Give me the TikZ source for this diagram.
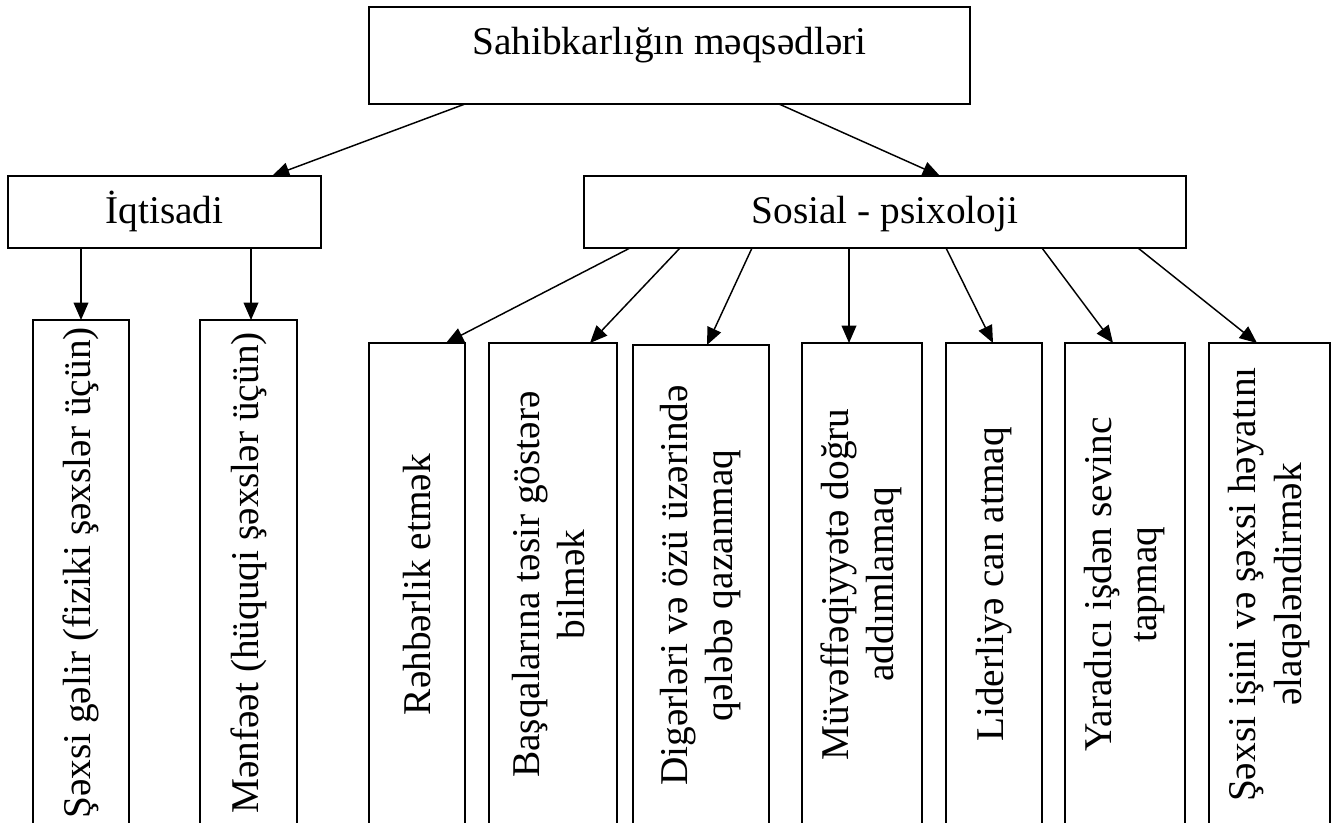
\documentclass[tikz,border=0pt]{standalone}
\usepackage{fontspec}
\setmainfont{Liberation Serif}
\usetikzlibrary{arrows.meta}
\newlength\pxu
\setlength\pxu{0.75pt}
\begin{document}
\begin{tikzpicture}[x=0.75pt,y=-0.75pt,
  box/.style={draw,line width=1.5pt,anchor=north west,inner sep=0pt,outer sep=0pt,align=center,
    font=\fontsize{29.5pt}{34pt}\selectfont},
  txt/.style={font=\fontsize{29.5pt}{34pt}\selectfont,inner sep=0pt},
  arr/.style={line width=1.1pt,-{Triangle[length=13pt,width=11pt]}},
  ]
\useasboundingbox (0,0) rectangle (1341,822);
\fill[white] (0,0) rectangle (1341,822);
\clip (0,0) rectangle (1341,822);
% top level
\node[box,minimum width=601\pxu,minimum height=97\pxu] (top) at (369,7) {};
\node[txt,anchor=base] (toptxt) at ([yshift=-47\pxu]top.north) {Sahibkarlığın məqsədləri};
% second level
\node[box,minimum width=313\pxu,minimum height=72\pxu,text height=22pt,text depth=5.5pt] (iq) at (8,176) {İqtisadi};
\node[box,minimum width=602\pxu,minimum height=72\pxu,text height=22pt,text depth=5.5pt] (sos) at (584,176) {Sosial - psixoloji};
% third level
\node[box,minimum width=96\pxu,minimum height=506\pxu] (b1) at (33,320) {\rotatebox{90}{Şəxsi gəlir (fiziki şəxslər üçün)}};
\node[box,minimum width=97\pxu,minimum height=506\pxu] (b2) at (200,320) {\rotatebox{90}{Mənfəət (hüquqi şəxslər üçün)}};
\node[box,minimum width=96\pxu,minimum height=483\pxu] (b3) at (369,343) {\rotatebox{90}{Rəhbərlik etmək}};
\node[box,minimum width=128\pxu,minimum height=483\pxu] (b4) at (489,343) {\rotatebox{90}{\begin{tabular}{@{}c@{}}Başqalarına təsir göstərə\\bilmək\end{tabular}}};
\node[box,minimum width=136\pxu,minimum height=481\pxu] (b5) at (633,345) {\rotatebox{90}{\begin{tabular}{@{}c@{}}Digərləri və özü üzərində\\qələbə qazanmaq\end{tabular}}};
\node[box,minimum width=120\pxu,minimum height=483\pxu] (b6) at (802,343) {\rotatebox{90}{\begin{tabular}{@{}c@{}}Müvəffəqiyyətə doğru\\addımlamaq\end{tabular}}};
\node[box,minimum width=96\pxu,minimum height=483\pxu] (b7) at (946,343) {\rotatebox{90}{Liderliyə can atmaq}};
\node[box,minimum width=120\pxu,minimum height=483\pxu] (b8) at (1065,343) {\rotatebox{90}{\begin{tabular}{@{}c@{}}Yaradıcı işdən sevinc\\tapmaq\end{tabular}}};
\node[box,minimum width=121\pxu,minimum height=483\pxu] (b9) at (1209,343) {\rotatebox{90}{\begin{tabular}{@{}c@{}}Şəxsi işini və şəxsi həyatını\\əlaqələndirmək\end{tabular}}};
% connectors
\draw[arr] ([xshift=96\pxu]top.south west) -- ([xshift=264\pxu]iq.north west);
\draw[arr] ([xshift=410\pxu]top.south west) -- ([xshift=356\pxu]sos.north west);
\draw[arr] ([xshift=73\pxu]iq.south west) -- ([xshift=48\pxu]b1.north west);
\draw[arr] ([xshift=243\pxu]iq.south west) -- ([xshift=51\pxu]b2.north west);
\draw[arr] ([xshift=46\pxu]sos.south west) -- ([xshift=77\pxu]b3.north west);
\draw[arr] ([xshift=96\pxu]sos.south west) -- ([xshift=101\pxu]b4.north west);
\draw[arr] ([xshift=168\pxu]sos.south west) -- ([xshift=74\pxu]b5.north west);
\draw[arr] ([xshift=265\pxu]sos.south west) -- ([xshift=47\pxu]b6.north west);
\draw[arr] ([xshift=362\pxu]sos.south west) -- ([xshift=47\pxu]b7.north west);
\draw[arr] ([xshift=458\pxu]sos.south west) -- ([xshift=48\pxu]b8.north west);
\draw[arr] ([xshift=554\pxu]sos.south west) -- ([xshift=48\pxu]b9.north west);
\end{tikzpicture}
\end{document}
